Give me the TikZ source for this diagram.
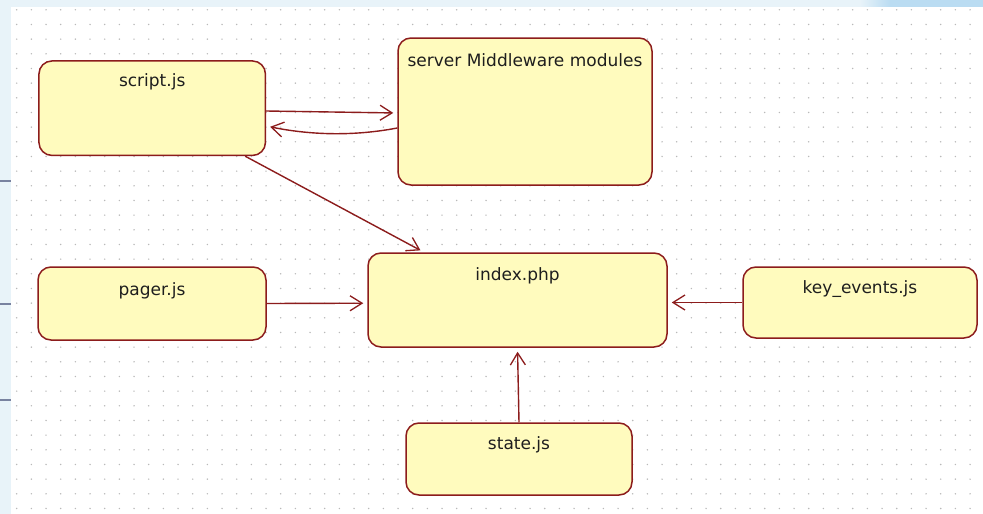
\documentclass[tikz,border=0pt]{standalone}
\usepackage{fontspec}
\setmainfont{DejaVu Sans}
\usetikzlibrary{arrows.meta,calc}
\definecolor{edgered}{RGB}{140,28,28}
\definecolor{boxfill}{RGB}{255,251,190}
\definecolor{frameblue}{RGB}{232,243,249}
\definecolor{tabblue}{RGB}{186,220,242}
\definecolor{gridgray}{RGB}{185,185,185}
\definecolor{sepgray}{RGB}{120,130,160}
\definecolor{labelink}{RGB}{30,30,30}
\tikzset{
  umlbox/.style={draw=edgered, fill=boxfill, line width=1.5pt, rounded corners=13pt,
    inner xsep=0pt, inner ysep=0pt, align=center, text=labelink,
    font=\fontsize{17}{20}\selectfont},
  dep/.style={draw=edgered, line width=1.4pt, shorten >=4pt,
    -{Straight Barb[length=12pt,width=15pt,line width=1.3pt]}}
}
\begin{document}
\begin{tikzpicture}[x=1pt,y=-1pt]
\useasboundingbox (0,0) rectangle (983,514);
% window frame and drawing canvas
\fill[frameblue] (0,0) rectangle (983,514);
\fill[left color=frameblue, right color=tabblue] (860,0) rectangle (890,7);
\fill[tabblue] (890,0) rectangle (983,7);
\fill[white] (11,7) rectangle (983,514);
\foreach \yy in {181,304,400} \fill[sepgray] (0,\yy-1) rectangle (11,\yy+1);
% dotted grid
\foreach \i in {0,...,66} {
  \foreach \j in {0,...,34} {
    \fill[gridgray] (16.7+14.667*\i, 9.8+14.667*\j) circle (0.8pt);
  }
}
% components
\node[umlbox, minimum width=226.5pt, text height=26pt, text depth=68.5pt] (script) at (152.2,108.2) {script.js};
\node[umlbox, minimum width=254pt, text height=28pt, text depth=119pt] (server) at (525,111.5) {server Middleware modules};
\node[umlbox, minimum width=299pt, text height=27pt, text depth=67pt] (index) at (517.5,300) {index.php};
\node[umlbox, minimum width=228pt, text height=28pt, text depth=45pt] (pager) at (152,303.5) {pager.js};
\node[umlbox, minimum width=234pt, text height=26pt, text depth=45pt] (keyev) at (860,302.5) {key\_events.js};
\node[umlbox, minimum width=226pt, text height=26pt, text depth=46pt] (state) at (519,459) {state.js};
% dependencies
\draw[dep] ($(script.east)+(0,2.8)$) -- ($(server.west)+(0,1.5)$);
\draw[dep] ($(server.west)+(0,16.5)$) .. controls (345,138) and (300,133) .. ($(script.east)+(0,17.8)$);
\draw[dep] ($(script.south)+(93,0)$) -- ($(index.north)+(-93.5,0)$);
\draw[dep] (pager.east) -- ($(index.west)+(0,3.2)$);
\draw[dep] (keyev.west) -- ($(index.east)+(0,2.5)$);
\draw[dep] (state.north) -- (index.south);
\end{tikzpicture}
\end{document}
